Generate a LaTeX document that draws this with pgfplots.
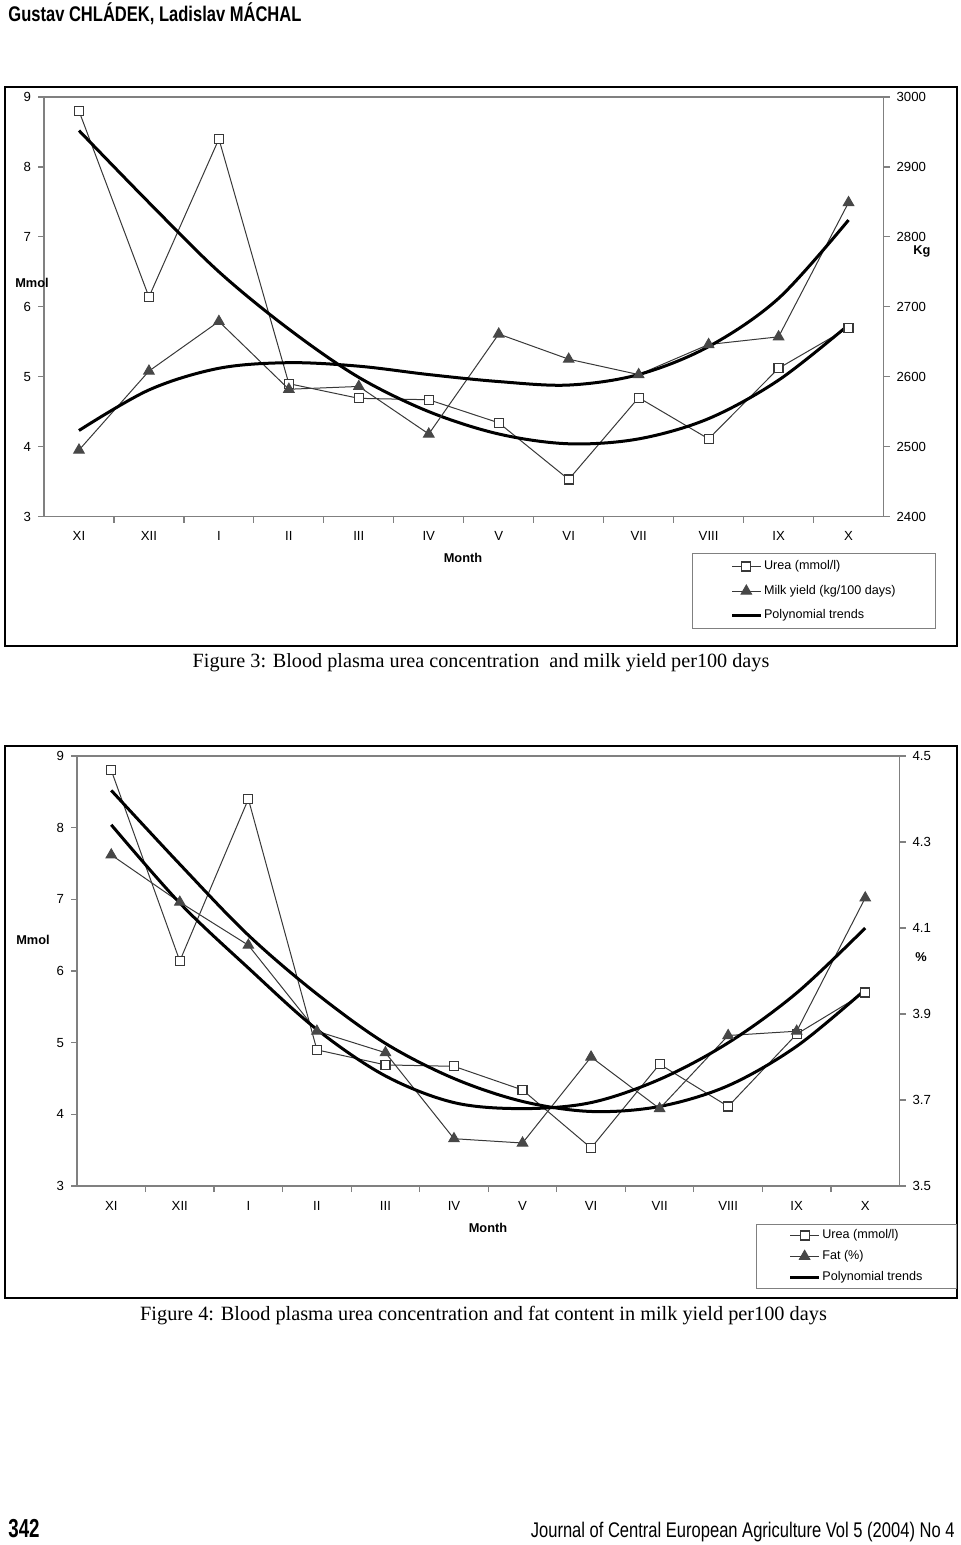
\documentclass[border=0pt]{standalone}
\usepackage{pgfplots}
\pgfplotsset{compat=1.18}
\usepackage{fontspec}
\setmainfont{Liberation Sans}
\newfontfamily\capfont{Liberation Serif}
\usepackage{graphicx}

\definecolor{ln}{gray}{0.22}
\definecolor{ax}{gray}{0.5}

\pgfplotstableread{
x urea milk fat
0 8.80 2495 4.27
1 6.14 2608 4.16
2 8.40 2679 4.06
3 4.90 2582 3.86
4 4.69 2586 3.81
5 4.67 2518 3.61
6 4.34 2661 3.60
7 3.53 2625 3.80
8 4.70 2603 3.68
9 4.11 2646 3.85
10 5.12 2657 3.86
11 5.70 2849 4.17
}\datatab

\pgfplotstableread{
x ureatr milktr fattr
0 8.52 2523 4.340
1 7.49 2581 4.158
2 6.50 2612 4.007
3 5.68 2620 3.864
4 4.99 2615 3.756
5 4.50 2603 3.694
6 4.18 2593 3.680
7 4.04 2588 3.694
8 4.11 2603 3.748
9 4.40 2643 3.833
10 4.95 2712 3.949
11 5.74 2824 4.100
}\trendtab

\pgfplotsset{
  base/.style={
    scale only axis, anchor=south west,
    xmin=-0.5, xmax=11.5,
    axis line style={ax, line width=0.6pt},
    tick style={ax, line width=0.6pt},
    tick align=outside, major tick length=3pt,
    tick label style={font=\fontsize{6.6}{7.5}\selectfont, /pgf/number format/assume math mode=true, /pgf/number format/1000 sep={}},
    legend image code/.code={\draw[mark repeat=2,mark phase=2] plot coordinates {(0cm,0cm) (0.25cm,0cm) (0.5cm,0cm)};},
  },
  leftax/.style={base, tick pos=left,
    ymin=3, ymax=9, ytick={3,...,9},
    xtick={0.5,1.5,...,10.5}, xticklabels={},
    extra x ticks={0,...,11},
    extra x tick labels={XI,XII,I,II,III,IV,V,VI,VII,VIII,IX,X},
    extra x tick style={major tick length=0pt},
    xticklabel style={yshift=-4pt},
  },
  rightax/.style={base, axis x line=none, axis y line*=right},
  urea/.style={ln, line width=0.5pt, mark=square*, mark size=2.25pt, mark options={fill=white, draw=ln, line width=0.6pt}},
  tri/.style={ln, line width=0.5pt, mark=triangle*, mark size=3pt, mark options={fill=black!72, draw=black!72}},
  trend/.style={black, line width=1.5pt, smooth, tension=0.55, no markers},
}

\begin{document}
\begin{tikzpicture}
\path[use as bounding box] (0,0) rectangle (480pt,-772.5pt);

% header
\node[anchor=base west, inner sep=0pt, font=\bfseries\fontsize{10.6}{12}\selectfont] at (4pt,-10.8pt) {\scalebox{0.78}[1]{Gustav CHLÁDEK, Ladislav MÁCHAL}};

% ===== Chart 1 =====
\draw[line width=1.2pt] (2.5pt,-43.5pt) rectangle (478.5pt,-323pt);
\begin{axis}[leftax, at={(22pt,-258.25pt)}, width=419.75pt, height=209.75pt]
  \addplot[urea] table[x=x, y=urea] {\datatab};
  \addplot[trend] table[x=x, y=ureatr] {\trendtab};
\end{axis}
\begin{axis}[rightax, at={(22pt,-258.25pt)}, width=419.75pt, height=209.75pt,
  ymin=2400, ymax=3000, ytick={2400,2500,...,3000},
  legend style={at={(0.772,-0.087)}, anchor=north west, draw=ax, line width=0.5pt,
    font=\fontsize{6.3}{7}\selectfont, inner xsep=19pt, inner ysep=2.5pt, row sep=4.2pt,
    nodes={inner sep=1pt}},
  legend cell align=left]
  \addlegendimage{urea}
  \addlegendentry{Urea (mmol/l)}
  \addplot[tri] table[x=x, y=milk] {\datatab};
  \addlegendentry{Milk yield (kg/100 days)}
  \addplot[trend, forget plot] table[x=x, y=milktr] {\trendtab};
  \addlegendimage{trend}
  \addlegendentry{Polynomial trends}
\end{axis}
\node[font=\bfseries\fontsize{6.4}{7}\selectfont] at (16pt,-141.5pt) {Mmol};
\node[font=\bfseries\fontsize{6.4}{7}\selectfont] at (461pt,-125.5pt) {Kg};
\node[font=\bfseries\fontsize{6.4}{7}\selectfont] at (231.5pt,-279pt) {Month};
\node[font=\capfont\fontsize{10.1}{12}\selectfont] at (240.5pt,-331.5pt) {Figure 3: Blood plasma urea concentration \ and milk yield per100 days};

% ===== Chart 2 =====
\draw[line width=1.2pt] (2.5pt,-373pt) rectangle (478.5pt,-649pt);
\begin{axis}[leftax, at={(38.5pt,-593pt)}, width=411.25pt, height=215pt]
  \addplot[urea] table[x=x, y=urea] {\datatab};
  \addplot[trend] table[x=x, y=ureatr] {\trendtab};
\end{axis}
\begin{axis}[rightax, at={(38.5pt,-593pt)}, width=411.25pt, height=215pt,
  ymin=3.5, ymax=4.5, ytick={3.5,3.7,...,4.5},
  yticklabel style={/pgf/number format/fixed, /pgf/number format/precision=1, /pgf/number format/fixed zerofill},
  legend style={at={(0.826,-0.088)}, anchor=north west, draw=ax, line width=0.5pt,
    font=\fontsize{6.3}{7}\selectfont, inner xsep=16pt, inner ysep=1.5pt, row sep=2.4pt,
    nodes={inner sep=1pt}},
  legend cell align=left]
  \addlegendimage{urea}
  \addlegendentry{Urea (mmol/l)}
  \addplot[tri] table[x=x, y=fat] {\datatab};
  \addlegendentry{Fat (\%)}
  \addplot[trend, forget plot] table[x=x, y=fattr] {\trendtab};
  \addlegendimage{trend}
  \addlegendentry{Polynomial trends}
\end{axis}
\node[font=\bfseries\fontsize{6.4}{7}\selectfont] at (16.5pt,-470pt) {Mmol};
\node[font=\bfseries\fontsize{6.4}{7}\selectfont] at (460.5pt,-478.5pt) {\%};
\node[font=\bfseries\fontsize{6.4}{7}\selectfont] at (244pt,-614pt) {Month};
\node[font=\capfont\fontsize{10.15}{12}\selectfont] at (241.75pt,-658pt) {Figure 4: Blood plasma urea concentration and fat content in milk yield per100 days};

% footer
\node[anchor=base west, inner sep=0pt, font=\bfseries\fontsize{13}{15}\selectfont] at (4pt,-768.5pt) {\scalebox{0.72}[1]{342}};
\node[anchor=base east, inner sep=0pt, font=\fontsize{10.6}{12}\selectfont] at (477.5pt,-768.5pt) {\scalebox{0.78}[1]{Journal of Central European Agriculture Vol 5 (2004) No 4}};
\end{tikzpicture}
\end{document}
